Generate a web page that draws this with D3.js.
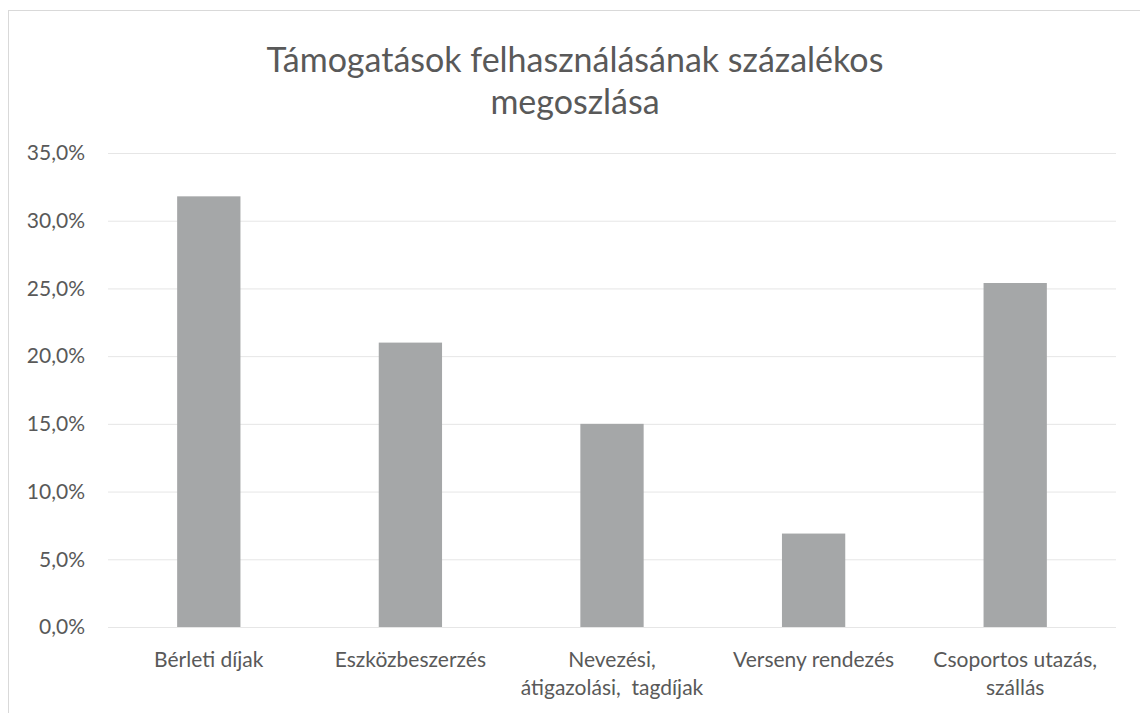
<!DOCTYPE html>
<html>
<head>
<meta charset="utf-8">
<script src="https://cdn.jsdelivr.net/npm/d3@7"></script>
<style>
  body { margin: 0; background: #fff; }
  svg { display: block; font-family: "Lato", "Open Sans", sans-serif; }
</style>
</head>
<body>
<svg id="chart" width="1140" height="713"></svg>
<script>
const titleLines = ["Támogatások felhasználásának százalékos", "megoszlása"];
const categories = [
  ["Bérleti díjak"],
  ["Eszközbeszerzés"],
  ["Nevezési,", "átigazolási,  tagdíjak"],
  ["Verseny rendezés"],
  ["Csoportos utazás,", "szállás"]
];
const values = [31.8, 21.0, 15.0, 6.9, 25.4];
const yTicks = [0, 5, 10, 15, 20, 25, 30, 35];

const svg = d3.select("#chart");
const margin = { left: 108, right: 1116, top: 153, bottom: 627 };

// chart frame
svg.append("rect")
  .attr("x", 8.5).attr("y", 10.5)
  .attr("width", 1140).attr("height", 720)
  .attr("fill", "none")
  .attr("stroke", "#d9d9d9");

const x = d3.scaleBand()
  .domain(categories.map((c, i) => i))
  .range([margin.left, margin.right])
  .paddingInner(0.686)
  .paddingOuter(0.343);

const y = d3.scaleLinear().domain([0, 35]).range([margin.bottom, margin.top]);

// title
svg.append("g")
  .selectAll("text")
  .data(titleLines)
  .enter()
  .append("text")
  .attr("x", 575)
  .attr("y", (d, i) => 72 + i * 42)
  .attr("text-anchor", "middle")
  .attr("font-size", 34)
  .attr("fill", "#595959")
  .text(d => d);

// gridlines + y labels
const yAxis = d3.axisLeft(y)
  .tickValues(yTicks)
  .tickSize(-(margin.right - margin.left))
  .tickPadding(23)
  .tickFormat(d => d.toFixed(1).replace(".", ",") + "%");

svg.append("g")
  .attr("transform", `translate(${margin.left},0)`)
  .call(yAxis)
  .call(g => g.select(".domain").remove())
  .call(g => g.selectAll("line").attr("stroke", "#e6e6e6"))
  .call(g => g.selectAll("text")
    .attr("font-size", 21)
    .attr("fill", "#595959")
    .attr("font-family", "Lato, 'Open Sans', sans-serif"));

// bars
svg.append("g")
  .selectAll("rect")
  .data(values)
  .enter()
  .append("rect")
  .attr("x", (d, i) => x(i))
  .attr("width", x.bandwidth())
  .attr("y", d => y(d))
  .attr("height", d => y(0) - y(d))
  .attr("fill", "#a5a7a8");

// category labels
const labels = svg.append("g")
  .selectAll("text")
  .data(categories)
  .enter()
  .append("text")
  .attr("text-anchor", "middle")
  .attr("font-size", 21)
  .attr("fill", "#595959")
  .attr("x", (d, i) => x(i) + x.bandwidth() / 2)
  .attr("y", 667);

labels.selectAll("tspan")
  .data(d => d)
  .enter()
  .append("tspan")
  .attr("x", function () { return d3.select(this.parentNode).attr("x"); })
  .attr("dy", (d, i) => (i === 0 ? 0 : 28))
  .attr("xml:space", "preserve")
  .style("white-space", "pre")
  .text(d => d);
</script>
</body>
</html>
